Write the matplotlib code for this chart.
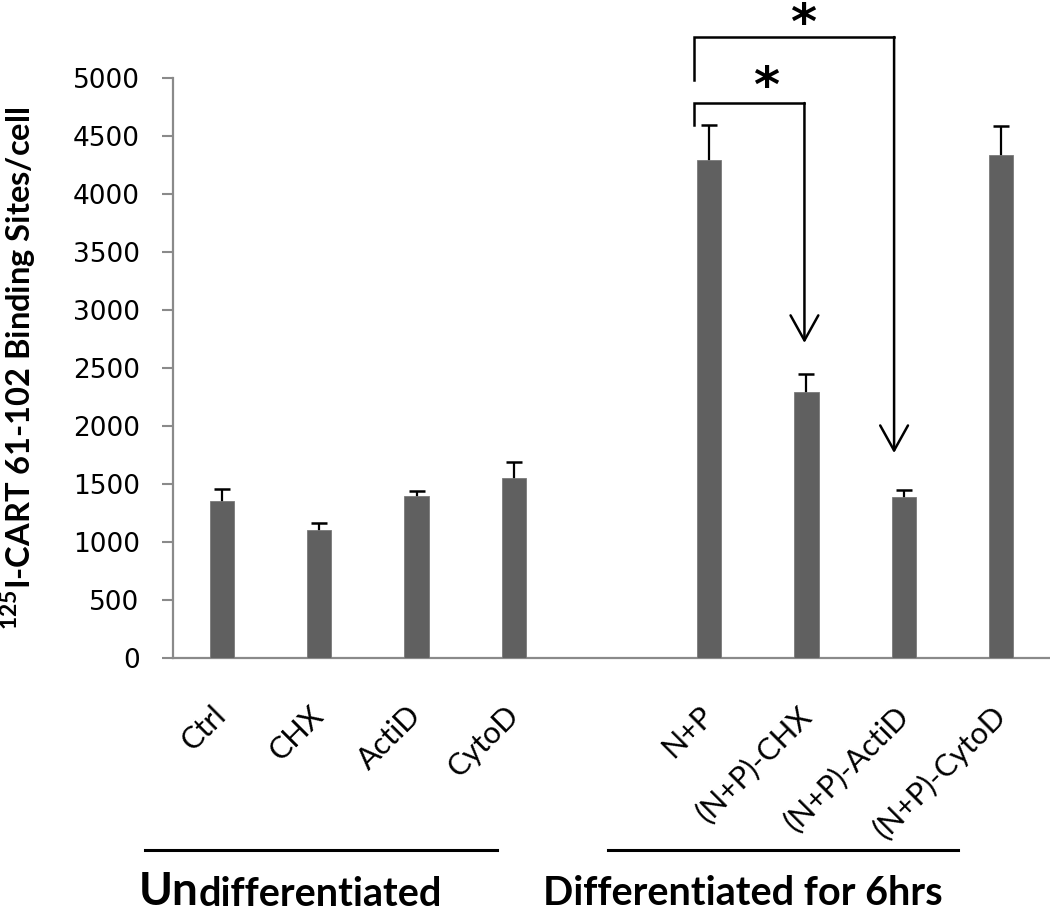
import matplotlib
matplotlib.use("Agg")
import matplotlib.pyplot as plt
import matplotlib.transforms as mtransforms

plt.rcParams["font.family"] = ["Lato", "DejaVu Sans"]
plt.rcParams["mathtext.fontset"] = "custom"
plt.rcParams["mathtext.rm"] = "Lato"
plt.rcParams["mathtext.bf"] = "Lato:bold"

# data
labels = ["Ctrl", "CHX", "ActiD", "CytoD",
          "N+P", "(N+P)-CHX", "(N+P)-ActiD", "(N+P)-CytoD"]
positions = [0, 1, 2, 3, 5, 6, 7, 8]
values = [1355, 1103, 1394, 1554, 4293, 2296, 1385, 4340]
errors = [100, 63, 45, 138, 300, 155, 60, 250]
group_names = ["Undifferentiated", "Differentiated for 6hrs"]

BAR_COLOR = "#606060"
AXIS_COLOR = "#8a8a8a"

fig = plt.figure(figsize=(10.5, 9.13), dpi=100)
ax = fig.add_axes([173 / 1050, 255 / 913, 877 / 1050, 580 / 913])

# error bars sit behind the bars so only the upper half shows
ax.errorbar(positions, values, yerr=errors, fmt="none", ecolor="black",
            elinewidth=1.6, capsize=6, capthick=1.8, zorder=2)
ax.bar(positions, values, width=0.25, color=BAR_COLOR,
       edgecolor="#7a7a7a", linewidth=0.6, zorder=3)

ax.set_xlim(-0.5, 8.5)
ax.set_ylim(0, 5000)
ax.set_yticks(range(0, 5001, 500))
ax.set_xticks(positions, labels, rotation=45, ha="right", va="center",
              rotation_mode="anchor", fontsize=22)
ax.tick_params(axis="x", length=0, pad=38)
ax.tick_params(axis="y", direction="out", length=8, width=1.5,
               color=AXIS_COLOR, labelsize=19, pad=16)
for t in ax.get_yticklabels():
    t.set_fontfamily("DejaVu Sans")

for side in ["top", "right"]:
    ax.spines[side].set_visible(False)
for side in ["left", "bottom"]:
    ax.spines[side].set_color(AXIS_COLOR)
    ax.spines[side].set_linewidth(1.6)

ax.set_ylabel(r"$^{\mathbf{125}}$I-CART 61-102 Binding Sites/cell",
              fontsize=23.5, fontweight="bold")
ax.yaxis.set_label_coords(-0.154, 0.5)

# significance brackets with arrows
def bracket(x0, x1, y_start, y_top, y_tip, star_x, star_y):
    ax.plot([x0, x0, x1], [y_start, y_top, y_top], color="black", lw=1.8,
            clip_on=False, solid_joinstyle="miter")
    ax.annotate("", xy=(x1, y_tip), xytext=(x1, y_top),
                arrowprops=dict(arrowstyle="->,head_length=1.8,head_width=1.0",
                                color="black", lw=1.8, shrinkA=0, shrinkB=0),
                annotation_clip=False)
    ax.text(star_x, star_y, "*", fontsize=36, fontweight="bold",
            ha="center", va="center", family="DejaVu Sans")

bracket(4.85, 5.98, 4595, 4784, 2716, 5.59, 4910)
bracket(4.85, 6.9, 4983, 5353, 1767, 5.97, 5455)

# group underlines and names
trans = mtransforms.blended_transform_factory(ax.transData, ax.transAxes)
ax.plot([-0.79, 2.82], [-0.331, -0.331], color="black", lw=2.2,
        transform=trans, clip_on=False)
ax.plot([3.96, 7.56], [-0.331, -0.331], color="black", lw=2.2,
        transform=trans, clip_on=False)

t_un = ax.text(-0.85, -0.426, group_names[0][:2], transform=trans,
               fontsize=33, fontweight="bold", ha="left", va="baseline")
ax.annotate(group_names[0][2:], xy=(1, 0), xycoords=t_un,
            xytext=(0, 0), textcoords="offset points",
            fontsize=28.5, fontweight="bold", ha="left", va="bottom")
ax.text(3.30, -0.426, group_names[1], transform=trans,
        fontsize=28.5, fontweight="bold", ha="left", va="baseline")

fig.savefig("out.png", dpi=100)
